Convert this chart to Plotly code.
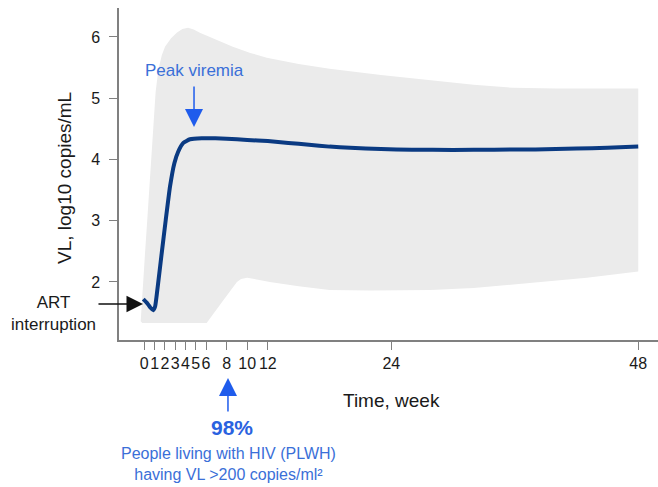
import plotly.graph_objects as go

# Median viral load after ART interruption (week, log10 copies/mL)
mean_weeks = [-0.1, 0.3, 0.6, 0.87, 1.05, 1.3, 1.69, 2.08, 2.5, 2.92, 3.3, 3.79,
              4.44, 5.58, 6.9, 8, 10, 12, 14, 16, 18, 20, 23, 26, 30, 34, 38,
              42, 45, 48]
mean_vl = [1.72, 1.65, 1.58, 1.54, 1.60, 1.92, 2.47, 3.01, 3.56, 3.94, 4.13, 4.27,
           4.33, 4.345, 4.345, 4.34, 4.32, 4.30, 4.27, 4.24, 4.21, 4.19, 4.17,
           4.16, 4.155, 4.16, 4.165, 4.18, 4.19, 4.21]

# Range envelope: upper bound (left to right), lower bound (right to left)
upper_weeks = [-0.35, -0.15, 0.07, 0.3, 0.49, 0.7, 0.87, 1.1, 1.36, 1.7, 2.01,
               2.6, 3.15, 3.7, 4.25, 4.8, 5.4, 7, 8.6, 10.3, 11.9, 15, 18, 23,
               27.8, 32, 35.8, 40, 48]
upper_vl = [1.36, 2.0, 2.47, 3.05, 3.55, 4.15, 4.64, 5.1, 5.46, 5.7, 5.84, 5.98,
            6.07, 6.13, 6.15, 6.12, 6.07, 5.95, 5.84, 5.74, 5.66, 5.56, 5.48,
            5.38, 5.30, 5.22, 5.17, 5.16, 5.16]
lower_weeks = [48, 43, 37.5, 32, 27.8, 22, 18, 15, 12.2, 10.8, 10, 9.4, 9.0,
               7.5, 6.06, -0.2, -0.35]
lower_vl = [2.17, 2.07, 1.98, 1.90, 1.87, 1.86, 1.87, 1.93, 2.0, 2.05, 2.07,
            2.05, 2.0, 1.66, 1.33, 1.33, 1.36]

x_tick_vals = [0, 1, 2, 3, 4, 5, 6, 8, 10, 12, 24, 48]
y_tick_vals = [2, 3, 4, 5, 6]

FONT = "Liberation Sans, Arial, sans-serif"
BLUE_TEXT = "#3a6fd8"
BLUE_ARROW = "#1f5cec"

# plot area in pixels: x 119..658, y 8..340
PL, PW, PB, PH = 119, 539, 340, 332


def px(xp):
    return (xp - PL) / PW


def py(yp):
    return (PB - yp) / PH


fig = go.Figure()

fig.add_trace(go.Scatter(
    x=upper_weeks + lower_weeks,
    y=upper_vl + lower_vl,
    mode="lines",
    fill="toself",
    fillcolor="#ebebeb",
    line=dict(width=0, color="#ebebeb"),
    hoverinfo="skip",
    showlegend=False,
))

fig.add_trace(go.Scatter(
    x=mean_weeks,
    y=mean_vl,
    mode="lines",
    line=dict(color="#0a3a82", width=4, shape="spline", smoothing=0.45),
    showlegend=False,
))

centered = dict(xanchor="center", yanchor="middle")

annotations = [
    # Peak viremia
    dict(x=4.83, y=5.445, xref="x", yref="y", text="Peak viremia",
         showarrow=False, font=dict(size=17, color=BLUE_TEXT, family=FONT),
         **centered),
    dict(x=4.83, y=4.53, xref="x", yref="y", text="", showarrow=True,
         ax=0, ay=-42, arrowhead=2, arrowsize=2.4, arrowwidth=1.5,
         arrowcolor=BLUE_ARROW, **centered),
    # ART interruption
    dict(x=px(53), y=py(313), xref="paper", yref="paper",
         text="ART<br>interruption", showarrow=False,
         font=dict(size=17, color="#1a1a1a", family=FONT), **centered),
    dict(x=-0.13, y=1.64, xref="x", yref="y", text="", showarrow=True,
         ax=-46, ay=0, arrowhead=2, arrowsize=2.2, arrowwidth=1.5,
         arrowcolor="#111111", **centered),
    # Week 8 callout
    dict(x=8.13, y=py(378), xref="x", yref="paper", text="", showarrow=True,
         ax=0, ay=35, arrowhead=2, arrowsize=2.4, arrowwidth=1.5,
         arrowcolor=BLUE_ARROW, **centered),
    dict(x=px(232), y=py(427), xref="paper", yref="paper",
         text="<b>98%</b>", showarrow=False,
         font=dict(size=21, color="#2a62e0", family=FONT), **centered),
    dict(x=px(228), y=py(464), xref="paper", yref="paper",
         text="People living with HIV (PLWH)<br>having VL >200 copies/ml²",
         showarrow=False,
         font=dict(size=16, color=BLUE_TEXT, family=FONT), **centered),
    # Axis titles
    dict(x=px(391), y=py(400), xref="paper", yref="paper",
         text="Time, week", showarrow=False,
         font=dict(size=19, color="#1a1a1a", family=FONT), **centered),
    dict(x=px(65), y=py(178), xref="paper", yref="paper",
         text="VL, log10 copies/mL", textangle=-90, showarrow=False,
         font=dict(size=19, color="#1a1a1a", family=FONT), **centered),
]

fig.update_layout(
    width=658, height=487,
    margin=dict(l=119, r=0, t=8, b=147),
    paper_bgcolor="white",
    plot_bgcolor="white",
    font=dict(family=FONT, size=16, color="#1a1a1a"),
    annotations=annotations,
    showlegend=False,
)

fig.update_xaxes(
    range=[-2.46, 49.92],
    tickvals=x_tick_vals,
    ticktext=[str(v) for v in x_tick_vals],
    tickangle=0,
    showgrid=False, zeroline=False,
    showline=True, linecolor="#808080", linewidth=1.5,
    ticks="outside", ticklen=8, tickwidth=1.2, tickcolor="#808080",
    ticklabelstandoff=0,
    tickfont=dict(size=16, color="#1a1a1a", family=FONT),
)
fig.update_yaxes(
    range=[1.053, 6.473],
    tickvals=y_tick_vals,
    showgrid=False, zeroline=False,
    showline=True, linecolor="#808080", linewidth=1.5,
    ticks="outside", ticklen=8, tickwidth=1.2, tickcolor="#808080",
    ticklabelstandoff=6,
    tickfont=dict(size=16, color="#1a1a1a", family=FONT),
)

fig.write_html("out.html")
